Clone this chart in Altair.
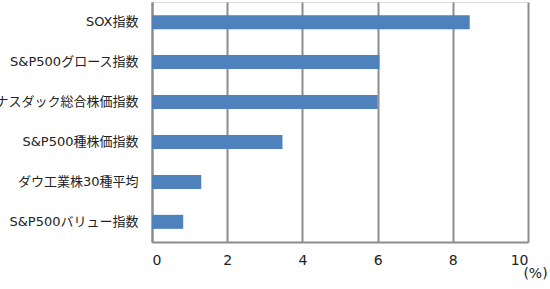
import altair as alt
import pandas as pd

categories = ["SOX指数", "S&P500グロース指数", "ナスダック総合株価指数", "S&P500種株価指数", "ダウ工業株30種平均", "S&P500バリュー指数"]
values = [8.45, 6.05, 6.0, 3.47, 1.31, 0.83]
x_ticks = [0, 2, 4, 6, 8, 10]

df = pd.DataFrame({"name": categories, "value": values})

font = "DejaVu Sans, Noto Sans CJK JP"

chart = alt.Chart(df).mark_bar(color="#4F81BD").encode(
    x=alt.X("value:Q",
            scale=alt.Scale(domain=[0, 10], nice=False),
            axis=alt.Axis(values=x_ticks, title="(%)", titleX=383, titleY=24, titleAlign="center",
                          titleBaseline="top", titleFont=font, titleFontSize=14, titleFontWeight="normal",
                          titleColor="#222222",
                          grid=True, gridColor="#8c8c8c", gridWidth=2, ticks=False,
                          domainColor="#8c8c8c", domainWidth=2,
                          labelFont=font, labelFontSize=14, labelColor="#222222", labelPadding=11)),
    y=alt.Y("name:N", sort=categories,
            scale=alt.Scale(paddingInner=0.65, paddingOuter=0.33),
            axis=alt.Axis(title=None, ticks=False, grid=False, domainColor="#8c8c8c", domainWidth=2,
                          labelFont=font, labelFontSize=13, labelColor="#222222", labelPadding=14,
                          labelLimit=200)),
).properties(
    width=376, height=240,
    autosize=alt.AutoSizeParams(type="none"),
    padding={"left": 152, "top": 2, "right": 22, "bottom": 47},
).configure_view(stroke=None).configure(background="white")

chart.save("out.html", embed_options={"renderer": "svg", "actions": False})
